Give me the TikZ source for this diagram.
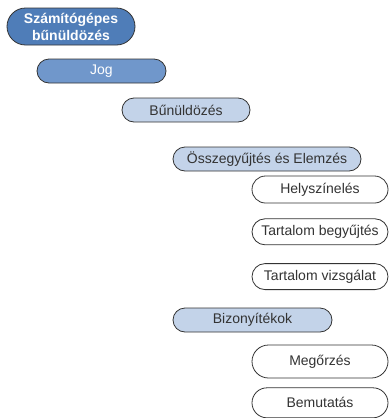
\documentclass[tikz,border=0pt]{standalone}
\usepackage{fontspec}
\setmainfont{Liberation Sans}
\usepackage{xcolor}
\usetikzlibrary{positioning,shapes.misc}

\definecolor{rootblue}{HTML}{4F7DB8}
\definecolor{midblue}{HTML}{7097CB}
\definecolor{paleblue}{HTML}{C3D3E9}
\definecolor{inkgray}{HTML}{333333}

\begin{document}
\begin{tikzpicture}[x=1pt, y=-1pt,
    box/.style={draw=black!80, line width=0.8pt, rounded rectangle, align=center,
      inner sep=0pt, text=inkgray, font=\fontsize{14}{17}\selectfont},
    root/.style={box, fill=rootblue, text=white, font=\bfseries\fontsize{14}{17}\selectfont},
    mid/.style={box, fill=midblue, text=white},
    topic/.style={box, fill=paleblue},
    leaf/.style={box, fill=white, minimum width=136pt}
  ]
    \useasboundingbox (0,0) rectangle (390,418);
    \node[root, minimum width=128pt, minimum height=37pt] (szb) at (71,26.5) {Számítógépes\\bűnüldözés};
    \node[mid, minimum width=129pt, minimum height=24pt] (jog) at (101.5,71) {Jog};
    \node[topic, minimum width=128pt, minimum height=24pt] (bun) at (186,110) {Bűnüldözés};
    \node[topic, minimum width=188pt, minimum height=24pt] (ossz) at (267,159) {Összegyűjtés és Elemzés};
    \node[leaf, minimum height=27pt] (hely) at (320,189.5) {Helyszínelés};
    \node[leaf, minimum height=26pt, below=15pt of hely] (tbeg) {Tartalom begyűjtés};
    \node[leaf, minimum height=26pt, below=18pt of tbeg] (tviz) {Tartalom vizsgálat};
    \node[topic, minimum width=159pt, minimum height=24pt] (biz) at (252.5,320) {Bizonyítékok};
    \node[leaf, minimum height=33pt] (meg) at (320,361.5) {Megőrzés};
    \node[leaf, minimum height=30pt, below=9pt of meg] (bem) {Bemutatás};
  \end{tikzpicture}
\end{document}
